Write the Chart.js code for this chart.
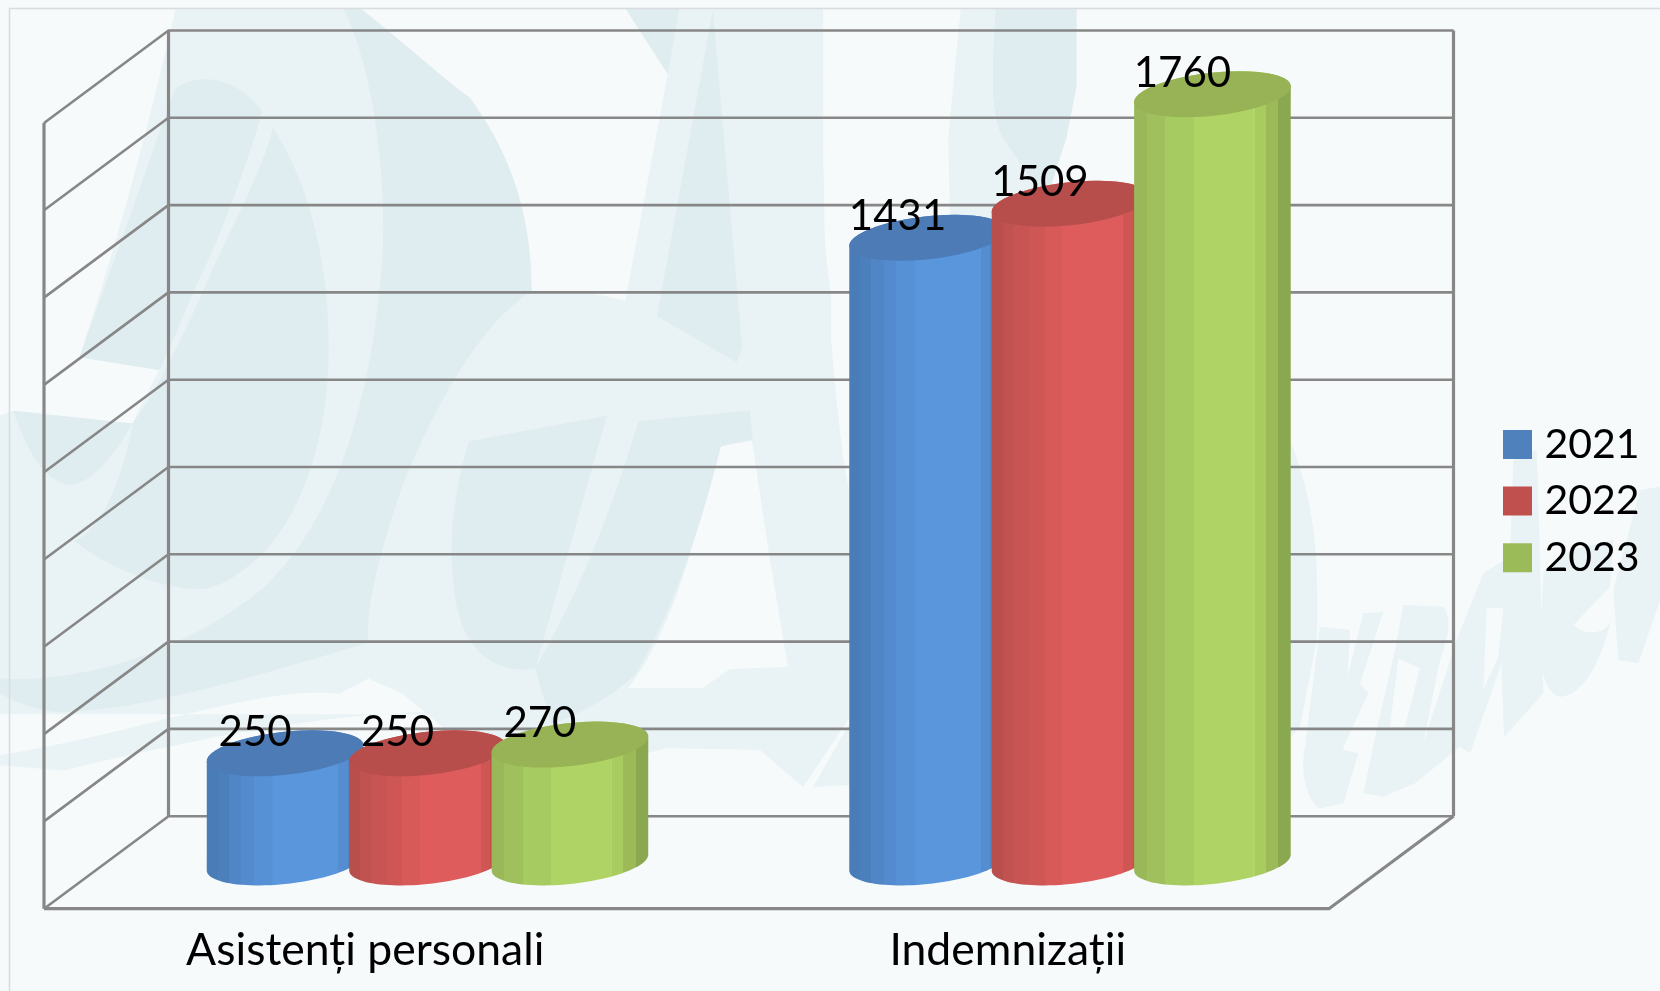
<!DOCTYPE html>
<html>
<head>
<meta charset="utf-8">
<style>html,body{margin:0;padding:0;background:#f6fafb;overflow:hidden}canvas{display:block}</style>
<script src="https://cdn.jsdelivr.net/npm/chart.js@4"></script>
</head>
<body>
<canvas id="c" width="1660" height="991"></canvas>
<script>
const categories = ['Asistenți personali', 'Indemnizații'];
const years = ['2021', '2022', '2023'];
const values2021 = [250, 1431];
const values2022 = [250, 1509];
const values2023 = [270, 1760];
const axisMax = 1800;
const axisStep = 200;

const fontFamily = 'Lato, "Open Sans", sans-serif';
const legendColors = ['#4f81bd', '#c0504d', '#9bbb59'];
const topColors = ['#4c7bb6', '#b84e4c', '#97b355'];
const sideBands = [
  [[0,'#4a7cb8'],[.07,'#4c80bd'],[.14,'#5086c6'],[.22,'#538bce'],[.3,'#5690d5'],[.42,'#5a96dc'],[.78,'#5a96dc'],[.84,'#558dd0'],[.9,'#4f84c2'],[1,'#4a7ab5']],
  [[0,'#b94f4d'],[.07,'#c05250'],[.14,'#c85553'],[.24,'#ce5755'],[.34,'#d75a59'],[.45,'#de5c5c'],[.76,'#de5c5c'],[.84,'#d05653'],[.9,'#c2504d'],[1,'#b84e4c']],
  [[0,'#9ab85a'],[.08,'#9fc05c'],[.2,'#a6cb60'],[.38,'#afd465'],[.76,'#b1d766'],[.77,'#a8cc60'],[.84,'#9cba58'],[.91,'#9cba58'],[.92,'#8aa84f'],[1,'#86a34c']]
];
const DEPTH_X = 124.5, DEPTH_Y = 92.5;
const FLOOR_X = 73.5, SKEW_X = 27, SKEW_Y = 23;
const WALL = '#878787';

function band(ctx, x0, x1, stops) {
  const g = ctx.createLinearGradient(x0, 0, x1, 0);
  stops.forEach((s, i) => {
    g.addColorStop(s[0], s[1]);
    if (i + 1 < stops.length) g.addColorStop(Math.max(s[0], stops[i + 1][0] - 0.001), s[1]);
  });
  return g;
}

const BG = '#f6fafb', LIGHT = '#e9f2f4', DARK = '#dfecf0';
const LEFT = [0.53,0,0,0.5102,0,0], MID = [0.676,0,0,0.574,600,0], PX = [1,0,0,1,0,0], RIGHT = [1/3,0,0,1/3,1280,540];
const watermark = [
  { m:LEFT, fill:LIGHT, d:'M335 0 L650 0 C760 80 830 150 885 190 C950 280 1003 400 1003 570 C900 640 820 800 760 950 C710 1100 690 1200 695 1330 L640 1360 C500 1340 250 1440 0 1480 L0 1500 L120 1510 C400 1440 700 1380 900 1400 L0 1400 L0 815 L25 805 L250 830 L300 725 L150 700 C240 420 300 160 335 0 Z' },
  { m:LEFT, fill:LIGHT, d:'M985 575 C1050 570 1120 570 1180 590 L1260 145 L1170 0 L1285 0 L1345 0 L1470 0 L1568 0 L1568 1568 L1000 1568 L760 1360 L695 1330 C690 1200 710 1100 760 950 C820 800 900 640 985 575 Z' },
  { m:MID, fill:BG, d:'M330 0 L540 0 L515 240 L520 700 L600 700 L600 1568 L330 1568 L370 800 L330 400 L330 130 Z' },
  { m:MID, fill:LIGHT, d:'M240 0 L300 0 C325 100 332 250 332 400 C340 600 355 780 368 850 L368 1300 L240 1300 L215 760 L205 600 Z' },
  { m:PX, fill:BG, d:'M721 446 L752 441 L770 560 L788 667 L730 669 L703 688 L628 688 C650 660 670 620 688 560 Z' },
  { m:PX, fill:BG, d:'M640 755 L667 748 L760 750 L803 787 L850 717 L850 905 L640 905 Z' },
  { m:PX, fill:LIGHT, d:'M813 787 L850 723 L850 785 Z' },
  { m:LEFT, fill:DARK, d:'M330 175 C370 140 450 150 495 220 C460 340 410 480 370 560 C340 630 320 690 300 725 L150 700 C220 500 280 320 330 175 Z' },
  { m:LEFT, fill:DARK, d:'M515 250 C570 340 620 480 620 680 C620 860 570 1000 500 1080 C450 1130 410 1155 370 1155 C290 1150 200 1110 140 1060 C200 1040 240 900 250 830 C300 760 350 650 400 530 C450 420 500 320 515 250 Z' },
  { m:LEFT, fill:DARK, d:'M25 805 L250 830 C210 900 170 950 130 950 C80 940 50 880 25 805 Z' },
  { m:LEFT, fill:DARK, d:'M640 0 L660 0 C760 80 830 150 885 190 C950 280 1003 400 1003 570 C900 640 820 800 760 950 C710 1100 690 1200 695 1260 C500 1320 250 1400 100 1395 C60 1390 20 1370 0 1360 L0 1330 C150 1340 350 1280 500 1150 C620 1030 700 820 722 500 C730 330 700 110 640 0 Z' },
  { m:LEFT, fill:DARK, d:'M885 865 L1145 815 L1010 1310 C960 1320 900 1300 870 1220 C840 1120 850 980 885 865 Z' },
  { m:LEFT, fill:DARK, d:'M1205 825 L1415 805 L1420 860 L1360 875 C1330 1000 1280 1180 1200 1320 C1150 1370 1090 1400 1040 1420 L1010 1310 C1100 1150 1160 980 1205 825 Z' },
  { m:LEFT, fill:DARK, d:'M1170 0 L1285 0 L1260 145 Z M1345 20 L1400 680 L1390 710 L1240 620 Z' },
  { m:MID, fill:DARK, d:'M585 0 L705 0 L705 150 L690 240 L660 350 L595 240 C570 180 585 60 585 0 Z' },
  { m:MID, fill:LIGHT, d:'M535 0 L585 0 C585 80 570 180 595 240 L660 350 L650 500 L520 500 L515 240 Z' },
  { m:RIGHT, fill:LIGHT, d:'M-60 -360 L30 -300 C90 -150 120 0 110 300 L60 560 L-60 700 Z' },
  { m:RIGHT, fill:LIGHT, d:'M120 260 L210 270 L190 630 L235 640 L190 790 L120 805 C80 780 60 700 75 620 Z' },
  { m:RIGHT, fill:LIGHT, d:'M250 220 L310 215 L240 430 L265 460 L190 620 L200 420 Z' },
  { m:RIGHT, fill:LIGHT, d:'M370 195 L490 200 C520 240 500 300 480 360 L405 730 L310 770 L250 760 L290 570 L345 330 Z' },
  { m:RIGHT, fill:BG, d:'M355 355 L420 385 L375 560 L330 560 Z' },
  { m:RIGHT, fill:LIGHT, d:'M405 730 L540 620 L570 640 L665 370 L672 590 L790 460 L780 60 L770 -270 L700 -240 L690 50 L610 100 L530 300 L420 640 Z' },
  { m:RIGHT, fill:BG, d:'M620 205 L670 205 L655 350 L610 450 Z' },
  { m:RIGHT, fill:LIGHT, d:'M790 100 L870 30 L1000 0 L990 140 L880 255 C920 290 970 280 990 250 C960 380 900 470 840 470 C800 460 780 400 780 300 Z' },
  { m:RIGHT, fill:LIGHT, d:'M1000 150 L1080 -150 L1140 -160 L1140 180 L1075 370 L1015 360 Z' }
];

const backdrop = {
  id: 'backdrop',
  beforeDraw(chart) {
    const ctx = chart.ctx;
    ctx.save();
    ctx.fillStyle = BG;
    ctx.fillRect(0, 0, chart.width, chart.height);
    ctx.restore();
    watermark.forEach(w => {
      ctx.save();
      ctx.beginPath(); ctx.rect(0, 8, chart.width, chart.height); ctx.clip();
      ctx.transform(...w.m);
      ctx.fillStyle = w.fill;
      ctx.fill(new Path2D(w.d));
      ctx.restore();
    });
    ctx.save();
    ctx.strokeStyle = '#d9dcdd'; ctx.lineWidth = 1.5;
    ctx.beginPath(); ctx.moveTo(9.5, 991); ctx.lineTo(9.5, 8.5); ctx.lineTo(1660, 8.5); ctx.stroke();
    ctx.restore();
    const y = chart.scales.y, a = chart.chartArea;
    ctx.save();
    ctx.strokeStyle = WALL; ctx.lineWidth = 2.6; ctx.lineCap = 'butt';
    y.ticks.forEach(t => {
      const py = y.getPixelForValue(t.value);
      ctx.beginPath();
      ctx.moveTo(a.left, py);
      ctx.lineTo(a.left + DEPTH_X, py - DEPTH_Y);
      ctx.lineTo(a.right + DEPTH_X, py - DEPTH_Y);
      ctx.stroke();
    });
    const top = y.getPixelForValue(axisMax), base = y.getPixelForValue(0);
    ctx.lineWidth = 3.2;
    ctx.beginPath();
    ctx.moveTo(a.left, top); ctx.lineTo(a.left, base);
    ctx.moveTo(a.left + DEPTH_X, top - DEPTH_Y); ctx.lineTo(a.left + DEPTH_X, base - DEPTH_Y);
    ctx.moveTo(a.right + DEPTH_X, top - DEPTH_Y); ctx.lineTo(a.right + DEPTH_X, base - DEPTH_Y);
    ctx.moveTo(a.left, base); ctx.lineTo(a.right, base); ctx.lineTo(a.right + DEPTH_X, base - DEPTH_Y);
    ctx.stroke();
    ctx.restore();
  }
};

function rim(cx, cy, from, to) {
  const pts = [];
  for (let i = 0; i <= 48; i++) {
    const t = from + (to - from) * i / 48;
    pts.push([cx + FLOOR_X * Math.cos(t) + SKEW_X * Math.sin(t), cy - SKEW_Y * Math.sin(t)]);
  }
  return pts;
}

const cylinders = {
  id: 'cylinders',
  beforeDatasetsDraw(chart) {
    const ctx = chart.ctx;
    const t0 = Math.atan2(SKEW_X, FLOOR_X);
    const half = Math.hypot(FLOOR_X, SKEW_X);
    chart.data.datasets.forEach((ds, di) => {
      chart.getDatasetMeta(di).data.forEach(el => {
        const p = el.getProps(['x', 'y', 'base'], true);
        const cx = p.x + DEPTH_X / 2;
        const topY = p.y - DEPTH_Y / 2, baseY = p.base - DEPTH_Y / 2;
        const side = rim(cx, baseY, t0 + Math.PI, t0 + 2 * Math.PI).concat(rim(cx, topY, t0, t0 + Math.PI));
        ctx.save();
        ctx.beginPath();
        side.forEach((q, i) => i ? ctx.lineTo(q[0], q[1]) : ctx.moveTo(q[0], q[1]));
        ctx.closePath();
        ctx.fillStyle = band(ctx, cx - half, cx + half, sideBands[di]);
        ctx.fill();
        ctx.beginPath();
        rim(cx, topY, 0, 2 * Math.PI).forEach((q, i) => i ? ctx.lineTo(q[0], q[1]) : ctx.moveTo(q[0], q[1]));
        ctx.closePath();
        ctx.fillStyle = topColors[di];
        ctx.fill();
        ctx.restore();
      });
    });
  },
  beforeDatasetDraw() { return false; },
  afterDatasetsDraw(chart) {
    const ctx = chart.ctx;
    ctx.save();
    ctx.font = '42px ' + fontFamily;
    ctx.fillStyle = '#000';
    ctx.textAlign = 'center';
    ctx.textBaseline = 'middle';
    chart.data.datasets.forEach((ds, di) => {
      chart.getDatasetMeta(di).data.forEach((el, i) => {
        const p = el.getProps(['x', 'y'], true);
        ctx.fillText(String(ds.data[i]), p.x + DEPTH_X / 2 - 30, p.y - DEPTH_Y / 2 - 21);
      });
    });
    ctx.restore();
  }
};

const legendPlace = {
  id: 'legendPlace',
  beforeLayout(chart) {
    const legend = chart.legend;
    if (!legend._sized) {
      const fit = legend.fit;
      legend.fit = function () { fit.call(this); this.width = chart.width - 1329; };
      legend._sized = true;
    }
  },
  afterLayout(chart) {
    chart.legend.left = 1495.4;
    chart.legend.top = 408.4;
  }
};

new Chart(document.getElementById('c'), {
  type: 'bar',
  data: {
    labels: categories,
    datasets: [
      { label: years[0], data: values2021, backgroundColor: legendColors[0] },
      { label: years[1], data: values2022, backgroundColor: legendColors[1] },
      { label: years[2], data: values2023, backgroundColor: legendColors[2] }
    ]
  },
  options: {
    responsive: false,
    animation: false,
    layout: { padding: { left: 44, top: 123, right: 0, bottom: 0 } },
    datasets: { bar: { categoryPercentage: 0.665, barPercentage: 1 } },
    scales: {
      x: {
        grid: { display: false },
        border: { display: false },
        afterFit(s) { s.height = 82.3; },
        ticks: { autoSkip: false, maxRotation: 0, minRotation: 0, padding: 7, color: '#000', font: { family: fontFamily, size: 44.5 } }
      },
      y: {
        display: false,
        min: 0,
        max: axisMax,
        ticks: { stepSize: axisStep }
      }
    },
    plugins: {
      tooltip: { enabled: false },
      legend: {
        position: 'right',
        align: 'start',
        labels: {
          boxWidth: 13,
          boxHeight: 13,
          padding: 15.6,
          color: '#000',
          font: { family: fontFamily, size: 41 },
          generateLabels(chart) {
            return chart.data.datasets.map((d, i) => ({
              text: d.label, fillStyle: legendColors[i], strokeStyle: legendColors[i],
              lineWidth: 16, lineJoin: 'miter', hidden: false, datasetIndex: i, fontColor: '#000'
            }));
          }
        }
      }
    }
  },
  plugins: [backdrop, cylinders, legendPlace]
});
</script>
</body>
</html>
